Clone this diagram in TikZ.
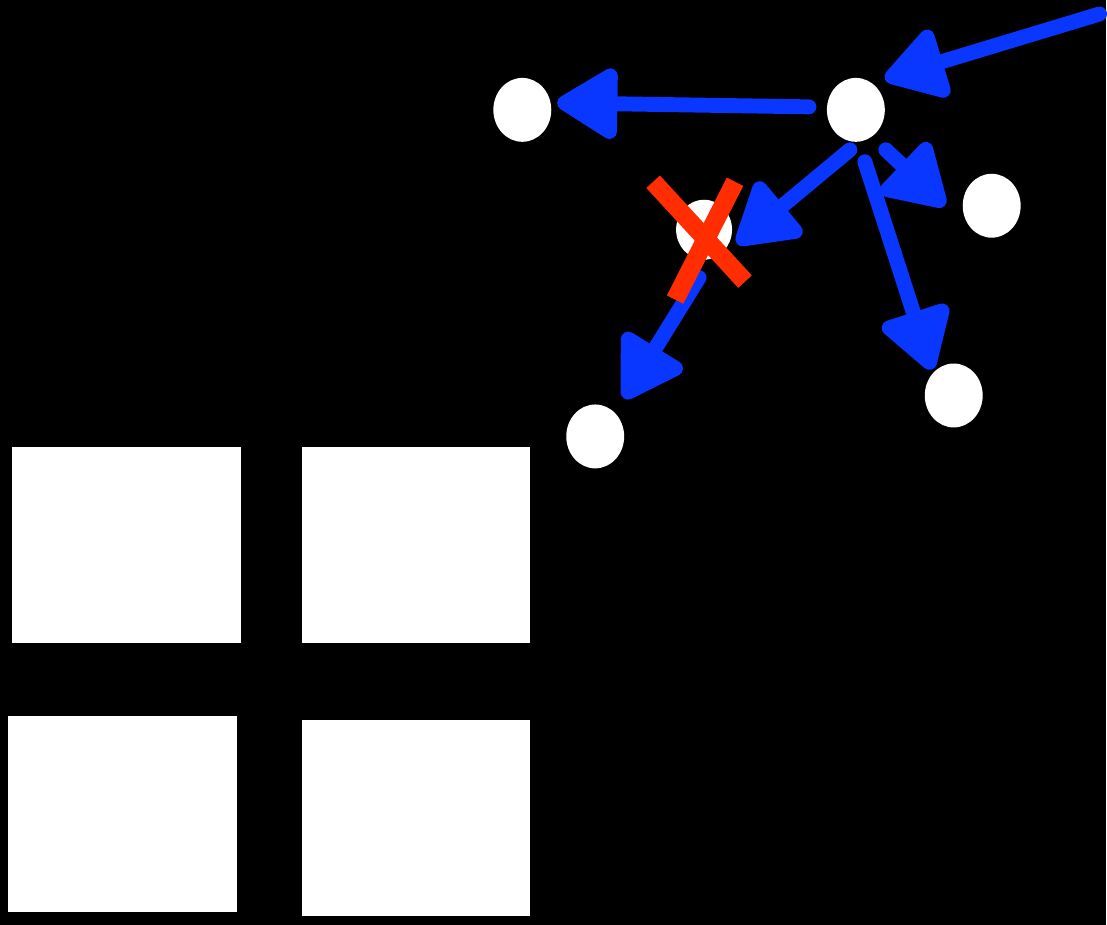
\documentclass[tikz,border=0pt]{standalone}
\usetikzlibrary{shapes.geometric,arrows.meta}
\definecolor{arrowblue}{RGB}{10,55,255}
\definecolor{crossred}{RGB}{255,45,0}

\begin{document}
\begin{tikzpicture}[x=0.02cm,y=-0.02cm,
  dot/.style={ellipse,fill=white,inner sep=0pt,minimum width=1.16cm,minimum height=1.28cm},
  arr/.style={draw=arrowblue,line width=8.5pt,line cap=round,
    -{Triangle[length=38.5pt,width=44.5pt,round]}},
  cross/.style={draw=crossred,line width=10.5pt}]
\fill[black] (0,0) rectangle (1107,926);
% nodes
\node[dot] (A) at (523,110) {};
\node[dot] (B) at (857,110) {};
\node[dot,minimum width=1.12cm,minimum height=1.2cm] (C) at (705,230) {};
\node[dot] (D) at (993,206) {};
\node[dot] (E) at (955,396) {};
\node[dot] (F) at (596,437) {};
\coordinate (In) at (1101,14);
% arrows
\draw[arr] (In) -- ([shift={(29,-31)}]B.center);
\draw[arr] ([shift={(-47,-3)}]B.center) -- ([shift={(35,-7)}]A.center);
\draw[arr] ([shift={(-6,40)}]B.center) -- ([shift={(33,14)}]C.center);
\draw[arr] ([shift={(30,40)}]B.center) -- ([shift={(-47,0)}]D.center);
\draw[arr] ([shift={(9,52)}]B.center) -- ([shift={(-22,-26)}]E.center);
\draw[arr] ([shift={(-5,48)}]C.center) -- ([shift={(29,-38)}]F.center);
% red cross
\draw[cross] ([shift={(-51,-48)}]C.center) -- ([shift={(41,52)}]C.center);
\draw[cross] ([shift={(31,-48)}]C.center) -- ([shift={(-29,70)}]C.center);
% squares
\fill[white] (12,448) rectangle (241,644);
\fill[white] (302,448) rectangle (531,644);
\fill[white] (8,717) rectangle (237,913);
\fill[white] (302,721) rectangle (531,917);
\end{tikzpicture}
\end{document}
